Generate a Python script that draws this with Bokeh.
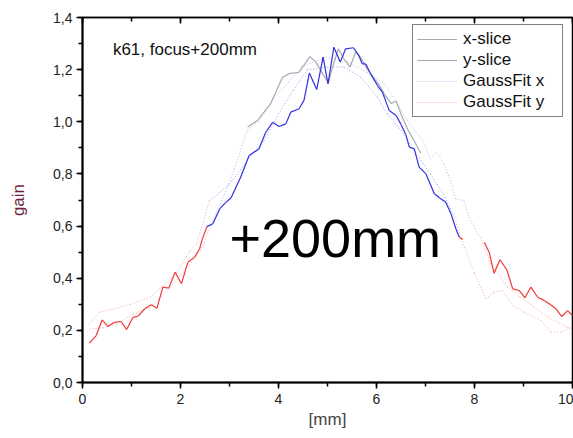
from bokeh.plotting import figure
from bokeh.models import (LinearAxis, Label, Legend, LegendItem, CustomJSTickFormatter,
                          ColumnDataSource, Range1d, SingleIntervalTicker)
from bokeh.embed import file_html
from bokeh.resources import INLINE

nan = float("nan")

# measured slice (red / blue solid)
yslice_x = [0.14, 0.28, 0.40, 0.52, 0.65, 0.79, 0.90, 1.03, 1.13, 1.27, 1.40, 1.52, 1.64, 1.76,
            1.89, 2.02, 2.15, 2.29, 2.39, 2.44, 2.54, 2.66, 2.80, 2.92, 3.03, 3.23, 3.40, 3.60,
            3.74, 3.88, 4.01, 4.15, 4.25, 4.42, 4.52, 4.63, 4.78, 4.91, 5.01, 5.13, 5.26, 5.37,
            5.53, 5.64, 5.71, 5.78, 5.88, 6.02, 6.12, 6.26, 6.40, 6.50, 6.60, 6.67, 6.77, 6.87,
            7.01, 7.18, 7.31, 7.41, 7.52, 7.62, 7.69, 7.76, 7.98, 8.20, 8.30, 8.40, 8.52, 8.66,
            8.78, 8.91, 9.03, 9.15, 9.29, 9.42, 9.54, 9.66, 9.78, 9.90, 10.0]
yslice_y = [0.151, 0.18, 0.24, 0.215, 0.231, 0.234, 0.203, 0.25, 0.254, 0.283, 0.298, 0.285, 0.366, 0.362,
            0.423, 0.379, 0.461, 0.481, 0.513, 0.547, 0.598, 0.609, 0.666, 0.69, 0.708, 0.788, 0.871, 0.896,
            0.96, 0.998, 0.982, 0.992, 1.037, 1.05, 1.082, 1.187, 1.124, 1.248, 1.146, 1.286, 1.229, 1.28,
            1.284, 1.254, 1.222, 1.222, 1.184, 1.139, 1.114, 1.043, 1.024, 0.99, 0.95, 0.903, 0.896, 0.826,
            0.80, 0.724, 0.705, 0.692, 0.647, 0.59, 0.557, 0.549, nan, 0.538, 0.50, 0.419, 0.471, 0.432,
            0.359, 0.353, 0.325, 0.366, 0.327, 0.315, 0.30, 0.283, 0.253, 0.276, 0.257]

# grey slice (near the peak)
xslice_x = [3.37, 3.57, 3.84, 4.08, 4.22, 4.42, 4.64, 4.76, 4.90, 5.02, 5.12, 5.22, 5.34, 5.46,
            5.58, 5.70, 5.82, 5.94, 6.06, 6.18, 6.30, 6.40, 6.52, 6.64, 6.76, 6.90]
xslice_y = [0.98, 1.005, 1.07, 1.17, 1.185, 1.19, 1.25, 1.23, 1.185, 1.15, 1.22, 1.28, 1.24, 1.21,
            1.27, 1.24, 1.20, 1.17, 1.14, 1.10, 1.07, 1.08, 1.02, 0.97, 0.93, 0.88]

# Gauss fits (dotted)
fitx_x = [0.14, 0.42, 0.69, 1.03, 1.38, 1.72, 2.06, 2.41, 2.62, 2.89, 3.10, 3.37, 3.60, 3.90, 4.20,
          4.46, 4.97, 5.41, 5.80, 6.16, 6.43, 6.63, 6.85, 6.96, 7.10, 7.23, 7.37, 7.51, 7.61, 7.78,
          7.89, 8.06, 8.13, 8.33, 8.67, 8.94, 9.22, 9.50, 9.90, 10.0]
fitx_y = [0.205, 0.21, 0.225, 0.262, 0.288, 0.352, 0.423, 0.506, 0.60, 0.72, 0.82, 0.97, 1.0, 1.09, 1.15,
          1.21, 1.248, 1.229, 1.19, 1.146, 1.069, 1.005, 0.95, 0.922, 0.858, 0.883, 0.839, 0.775, 0.705, 0.698,
          0.634, 0.570, 0.557, 0.455, 0.366, 0.327, 0.289, 0.25, 0.212, 0.21]
fity_x = [0.14, 0.35, 0.60, 0.97, 1.38, 1.65, 1.93, 2.20, 2.34, 2.59, 3.00, 3.40, 3.71, 4.00, 4.30,
          4.59, 5.00, 5.34, 5.68, 6.02, 6.22, 6.50, 6.80, 7.10, 7.40, 7.60, 7.79, 8.00, 8.23, 8.40,
          8.57, 8.78, 9.01, 9.35, 9.56, 9.76, 10.0]
fity_y = [0.225, 0.27, 0.28, 0.30, 0.327, 0.372, 0.423, 0.506, 0.538, 0.698, 0.76, 0.86, 0.928, 1.03, 1.12,
          1.20, 1.21, 1.21, 1.171, 1.094, 1.03, 0.967, 0.88, 0.80, 0.71, 0.63, 0.52, 0.42, 0.321, 0.346,
          0.353, 0.295, 0.27, 0.238, 0.193, 0.193, 0.212]

legend_labels = ["x-slice", "y-slice", "GaussFit x", "GaussFit y"]

FONT = "Liberation Sans"
RED = "#f03838"
BLUE = "#3030e0"


def seg_source(xs, ys, lo_color, hi_color, thr=0.55):
    x0, y0, x1, y1, c = [], [], [], [], []
    for i in range(len(xs) - 1):
        a, b = ys[i], ys[i + 1]
        x0.append(xs[i]); y0.append(a); x1.append(xs[i + 1]); y1.append(b)
        c.append(hi_color if (a == a and b == b and min(a, b) >= thr) else lo_color)
    return ColumnDataSource(dict(x0=x0, y0=y0, x1=x1, y1=y1, c=c))


p = figure(width=573, height=438, x_range=Range1d(0, 10), y_range=Range1d(0, 1.4001),
           output_backend="svg", toolbar_location=None,
           min_border_left=82, min_border_right=1, min_border_top=17, min_border_bottom=56)
p.grid.visible = False
p.outline_line_color = "black"
p.outline_line_width = 1.5
p.background_fill_color = "white"
p.border_fill_color = "white"

p.xaxis.ticker = SingleIntervalTicker(interval=2, num_minor_ticks=2)
p.yaxis.ticker = SingleIntervalTicker(interval=0.2, num_minor_ticks=2)
p.yaxis.formatter = CustomJSTickFormatter(code="return tick.toFixed(1).replace('.', ',');")
for ax in (p.xaxis[0], p.yaxis[0]):
    ax.axis_line_width = 2
    ax.major_tick_line_width = 1.5
    ax.minor_tick_line_width = 1.5
    ax.major_tick_out = 6
    ax.major_tick_in = 0
    ax.minor_tick_out = 4
    ax.minor_tick_in = 0
    ax.major_label_text_font = FONT
    ax.major_label_text_font_size = "14px"
    ax.major_label_text_color = "#222222"
    ax.axis_label_text_font = FONT
    ax.axis_label_text_font_size = "17px"
    ax.axis_label_text_font_style = "normal"

p.xaxis.axis_label = "[mm]"
p.xaxis.axis_label_standoff = 3
p.xaxis.major_label_standoff = 5
p.yaxis.axis_label = "gain"
p.yaxis.axis_label_text_color = "#6e1e3c"
p.yaxis.axis_label_standoff = 22
p.yaxis.major_label_standoff = 4

top = LinearAxis(ticker=SingleIntervalTicker(interval=2, num_minor_ticks=2),
                 formatter=CustomJSTickFormatter(code="return '';"),
                 major_tick_in=6, major_tick_out=0, minor_tick_in=4, minor_tick_out=0,
                 major_label_standoff=0, major_label_text_font_size="1px",
                 axis_line_width=1.5, major_tick_line_width=1.5, minor_tick_line_width=1.5)
p.add_layout(top, "above")

# dotted fits
r_fx = p.segment(x0="x0", y0="y0", x1="x1", y1="y1", line_color="c", line_width=1, line_alpha=0.6,
                 line_dash="1 2", source=seg_source(fitx_x, fitx_y, "#f07070", "#8888dd"))
r_fy = p.segment(x0="x0", y0="y0", x1="x1", y1="y1", line_color="c", line_width=1, line_alpha=0.6,
                 line_dash="1 2", source=seg_source(fity_x, fity_y, "#f07070", "#5555e8"))
# grey slice
r_xs = p.line(xslice_x, xslice_y, line_color="#a8a8b4", line_width=1.2)
# main slice
r_ys = p.segment(x0="x0", y0="y0", x1="x1", y1="y1", line_color="c", line_width=1.2,
                 source=seg_source(yslice_x, yslice_y, RED, BLUE))

legend = Legend(items=[LegendItem(label=legend_labels[0], renderers=[r_xs]),
                       LegendItem(label=legend_labels[1], renderers=[r_xs]),
                       LegendItem(label=legend_labels[2], renderers=[r_fx], index=20),
                       LegendItem(label=legend_labels[3], renderers=[r_fy], index=0)],
                location=(330, 265), border_line_color="black", border_line_width=1.5,
                padding=4, spacing=1, label_height=20, glyph_height=20, glyph_width=40,
                label_standoff=6, label_width=95, label_text_font=FONT, label_text_font_size="17px",
                label_text_color="#111111", background_fill_alpha=1.0)
p.add_layout(legend)

p.add_layout(Label(x=0.62, y=1.277, text="k61, focus+200mm", text_font=FONT, text_font_size="17px",
                   text_color="#111111", text_baseline="alphabetic"))
p.add_layout(Label(x=3.0, y=0.555, text="+200mm", text_font=FONT, text_font_size="54px",
                   text_color="#000000", text_baseline="alphabetic"))

open("out.html", "w").write(file_html(p, INLINE))
